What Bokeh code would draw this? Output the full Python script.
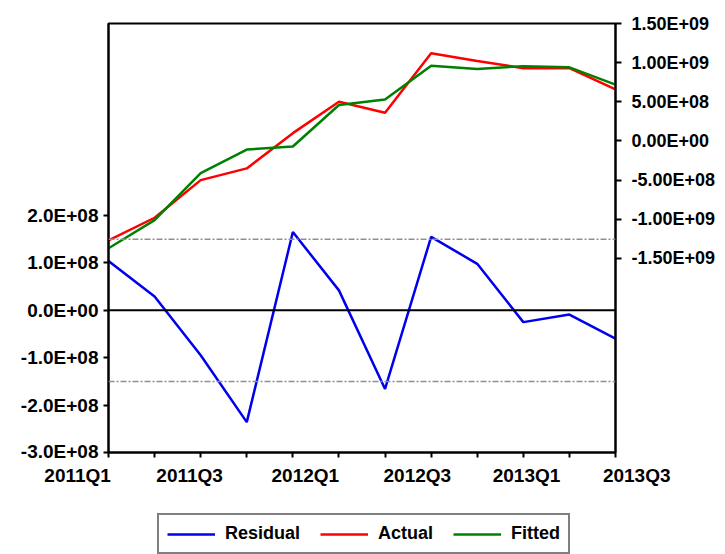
import numpy as np
from bokeh.plotting import figure
from bokeh.models import (Range1d, LinearAxis, FixedTicker, Span, Legend,
                          LegendItem, CustomLabelingPolicy)
from bokeh.embed import file_html
from bokeh.resources import INLINE

# ---- data ----
quarters = ["2011Q1", "2011Q2", "2011Q3", "2011Q4", "2012Q1", "2012Q2",
            "2012Q3", "2012Q4", "2013Q1", "2013Q2", "2013Q3", "2013Q4"]
residual = [1.04e8, 0.29e8, -0.95e8, -2.36e8, 1.65e8, 0.42e8,
            -1.66e8, 1.55e8, 0.98e8, -0.25e8, -0.09e8, -0.60e8]
actual = [-1.27e9, -0.98e9, -0.50e9, -0.35e9, 0.10e9, 0.50e9,
          0.36e9, 1.12e9, 1.02e9, 0.93e9, 0.93e9, 0.66e9]
fitted = [-1.37e9, -1.01e9, -0.41e9, -0.11e9, -0.07e9, 0.46e9,
          0.53e9, 0.96e9, 0.92e9, 0.955e9, 0.94e9, 0.72e9]
resid_se = 1.5e8

left_ticks = [-300000000, -200000000, -100000000, 0, 100000000, 200000000]
left_tick_labels = ["-3.0E+08", "-2.0E+08", "-1.0E+08", "0.0E+00", "1.0E+08", "2.0E+08"]
right_ticks = [-1500000000, -1000000000, -500000000, 0, 500000000, 1000000000, 1500000000]
right_tick_labels = ["-1.50E+09", "-1.00E+09", "-5.00E+08", "0.00E+00",
                     "5.00E+08", "1.00E+09", "1.50E+09"]
date_labels = ["2011Q1", "2011Q3", "2012Q1", "2012Q3", "2013Q1", "2013Q3"]
date_label_pos = [-0.67, 1.76, 4.27, 6.70, 9.07, 11.46]

FONT = "Liberation Sans"
x = list(range(len(quarters)))

# layout constants (pixels)
W = 723
LEFT, TOP, BOT = 108, 23, 7
FW, FH = 507, 429
RIGHT = W - LEFT - FW
H2 = 553 - (TOP + FH + BOT)

p = figure(frame_width=FW, frame_height=FH, output_backend="svg", toolbar_location=None,
           x_range=Range1d(0, len(quarters) - 1), y_range=Range1d(-3e8, 6.05e8),
           min_border_left=LEFT, min_border_right=RIGHT, min_border_top=TOP,
           min_border_bottom=BOT)
p.extra_y_ranges = {"right": Range1d(-3.977e9, 1.5e9)}

p.xgrid.visible = False
p.ygrid.visible = False
p.outline_line_color = "black"
p.outline_line_width = 2
p.background_fill_color = "white"
p.border_fill_color = "white"

# left axis (residual)
ya = p.yaxis[0]
ya.ticker = FixedTicker(ticks=left_ticks)
ya.major_label_overrides = dict(zip(left_ticks, left_tick_labels))
ya.minor_tick_line_color = None
ya.major_tick_in = 0
ya.major_tick_out = 5
ya.major_tick_line_width = 2
ya.axis_line_width = 2
ya.major_label_standoff = 5
ya.major_label_text_font = FONT
ya.major_label_text_font_style = "bold"
ya.major_label_text_font_size = "19px"
ya.major_label_text_color = "black"

# right axis (actual / fitted)
ra = LinearAxis(y_range_name="right", ticker=FixedTicker(ticks=right_ticks))
ra.major_label_overrides = dict(zip(right_ticks, right_tick_labels))
ra.minor_tick_line_color = None
ra.major_tick_in = 0
ra.major_tick_out = 6
ra.major_tick_line_width = 2
ra.axis_line_width = 2
ra.major_label_standoff = 10
ra.major_label_text_font = FONT
ra.major_label_text_font_style = "bold"
ra.major_label_text_font_size = "18px"
ra.major_label_text_color = "black"
p.add_layout(ra, "right")

# bottom axis: a tick mark per quarter; its labels are drawn in the strip below
xa = p.xaxis[0]
xa.ticker = FixedTicker(ticks=x)
xa.major_label_policy = CustomLabelingPolicy(
    code="for (const i of indices) { indices.unset(i) }\nreturn indices")
xa.major_label_text_font_size = "1px"
xa.major_label_standoff = 0
xa.minor_tick_line_color = None
xa.major_tick_in = 0
xa.major_tick_out = 5
xa.major_tick_line_width = 2
xa.axis_line_width = 2

# reference lines
p.add_layout(Span(location=0, dimension="width", line_color="black", line_width=2))
p.add_layout(Span(location=resid_se, dimension="width", line_color="#8f8f8f",
                  line_width=1.5, line_dash="6 2 2 2"))
p.add_layout(Span(location=-resid_se, dimension="width", line_color="#8f8f8f",
                  line_width=1.5, line_dash="6 2 2 2"))

series = [("Residual", residual, "#0000ee", "default"),
          ("Actual", actual, "#ff0000", "right"),
          ("Fitted", fitted, "#008000", "right")]
for name, vals, col, rng in series:
    p.line(x, vals, line_color=col, line_width=2.5, y_range_name=rng)

# ---- strip below: date labels (aligned with main x scale) + legend ----
px_per = FW / (len(quarters) - 1)
x2 = Range1d(-LEFT / px_per, (W - LEFT) / px_per)
p2 = figure(width=W, height=H2, output_backend="svg", toolbar_location=None,
            x_range=x2, y_range=Range1d(5e9, 6e9), x_axis_location="above",
            y_axis_location=None, min_border_left=0, min_border_right=0,
            min_border_top=0, min_border_bottom=0)
p2.outline_line_color = None
p2.xgrid.visible = False
p2.ygrid.visible = False
p2.background_fill_color = "white"
p2.border_fill_color = "white"
da = p2.xaxis[0]
da.ticker = FixedTicker(ticks=date_label_pos)
da.major_label_overrides = dict(zip(date_label_pos, date_labels))
da.axis_line_color = None
da.major_tick_line_color = None
da.minor_tick_line_color = None
da.major_label_standoff = 0
da.major_label_text_font = FONT
da.major_label_text_font_style = "bold"
da.major_label_text_font_size = "19px"
da.major_label_text_line_height = 0.8
da.major_label_text_color = "black"

# legend keys: same series drawn in this strip (its y range lies above all values,
# so only the legend swatches show)
items = []
for name, vals, col, rng in series:
    r = p2.line(x, vals, line_color=col, line_width=2.5)
    items.append(LegendItem(label=name, renderers=[r]))
legend = Legend(items=items, location=(157, 1), orientation="horizontal")
legend.label_text_font = FONT
legend.label_text_font_style = "bold"
legend.label_text_font_size = "18px"
legend.label_text_color = "black"
legend.glyph_width = 48
legend.glyph_height = 20
legend.label_height = 20
legend.label_standoff = 10
legend.spacing = 20
legend.padding = 8
legend.margin = 0
legend.border_line_color = "black"
legend.border_line_width = 2
legend.background_fill_color = "white"
legend.background_fill_alpha = 1
p2.add_layout(legend)

open("out.html", "w").write(file_html([p, p2], INLINE))
